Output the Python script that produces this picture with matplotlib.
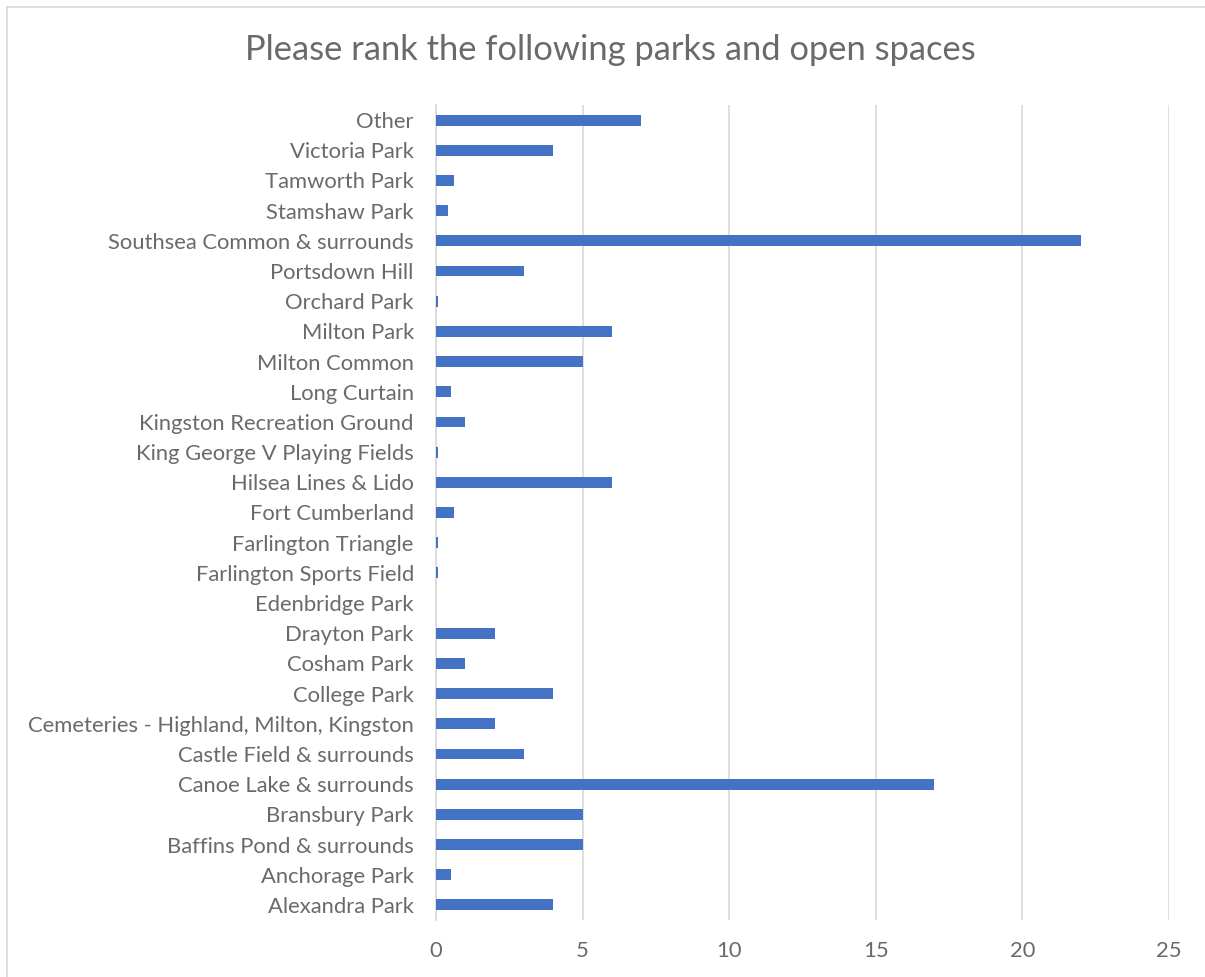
import matplotlib.pyplot as plt
from matplotlib.lines import Line2D

# categories listed bottom to top, as drawn on the chart
parks = [
    'Alexandra Park', 'Anchorage Park', 'Baffins Pond & surrounds', 'Bransbury Park',
    'Canoe Lake & surrounds', 'Castle Field & surrounds',
    'Cemeteries - Highland, Milton, Kingston', 'College Park', 'Cosham Park',
    'Drayton Park', 'Edenbridge Park', 'Farlington Sports Field',
    'Farlington Triangle', 'Fort Cumberland', 'Hilsea Lines & Lido',
    'King George V Playing Fields', 'Kingston Recreation Ground', 'Long Curtain',
    'Milton Common', 'Milton Park', 'Orchard Park', 'Portsdown Hill',
    'Southsea Common & surrounds', 'Stamshaw Park', 'Tamworth Park',
    'Victoria Park', 'Other',
]
scores = [4, 0.5, 5, 5, 17, 3, 2, 4, 1, 2, 0, 0.08, 0.08, 0.6, 6, 0.08, 1, 0.5,
          5, 6, 0.08, 3, 22, 0.4, 0.6, 4, 7]
x_ticks = [0, 5, 10, 15, 20, 25]

plt.rcParams['font.family'] = ['Lato', 'DejaVu Sans']
text_col = '#6a6a6a'
grid_col = '#d9d9d9'

fig = plt.figure(figsize=(12.05, 9.77), dpi=100)
ax = fig.add_axes([436 / 1205, 1 - 920 / 977, (1169 - 436) / 1205, (920 - 105) / 977])

ax.barh(range(len(parks)), scores, height=0.36, color='#4472c4', zorder=3)
ax.set_ylim(-0.5, len(parks) - 0.5)
ax.set_xlim(0, 25)
ax.set_xticks(x_ticks)
ax.set_yticks(range(len(parks)))
ax.set_yticklabels(parks)
ax.tick_params(axis='both', length=0, labelsize=15.8, colors=text_col)
ax.tick_params(axis='x', pad=15)
ax.tick_params(axis='y', pad=16)

ax.grid(axis='x', color=grid_col, linewidth=1.2, zorder=0)
for side in ['top', 'right', 'bottom']:
    ax.spines[side].set_visible(False)
ax.spines['left'].set_color(grid_col)
ax.spines['left'].set_linewidth(1.2)

fig.text(610 / 1205, 1 - 50 / 977, 'Please rank the following parks and open spaces',
         ha='center', va='center', fontsize=24.8, color=text_col)

# chart frame (left and top edges visible)
fig.add_artist(Line2D([7.5 / 1205, 7.5 / 1205], [0, 1 - 6.5 / 977],
                      transform=fig.transFigure, color=grid_col, linewidth=1.2))
fig.add_artist(Line2D([7.5 / 1205, 1], [1 - 6.5 / 977, 1 - 6.5 / 977],
                      transform=fig.transFigure, color=grid_col, linewidth=1.2))

fig.savefig('out.png', dpi=100)
